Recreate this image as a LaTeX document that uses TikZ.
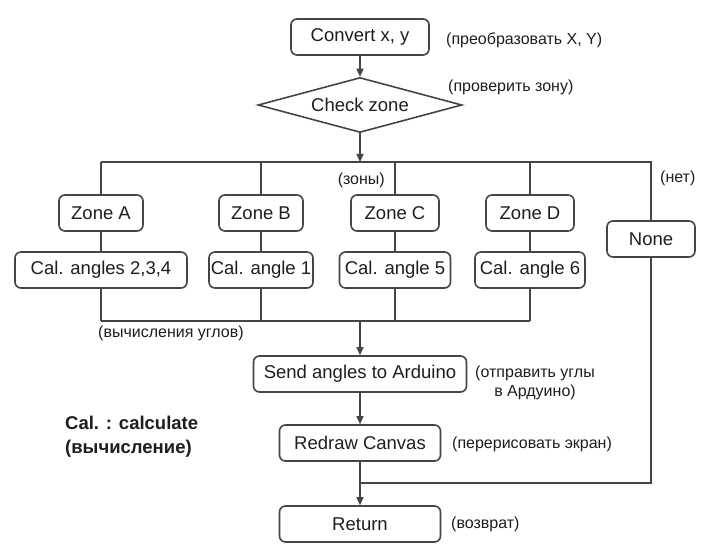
\documentclass[tikz,border=0pt]{standalone}
\usepackage{fontspec}
\setmainfont{Liberation Sans}
\usetikzlibrary{shapes.geometric,arrows.meta}
\definecolor{linegray}{HTML}{454545}
\definecolor{textgray}{HTML}{1E1E1E}
\begin{document}
\begin{tikzpicture}[x=1pt,y=1pt,
  box/.style={draw=linegray,line width=1.6pt,rounded corners=6pt,minimum height=36pt,inner sep=0pt,text=textgray,font=\fontsize{18.5}{22}\selectfont},
  cond/.style={diamond,draw=linegray,line width=1.6pt,aspect=3.7,minimum width=204pt,minimum height=55pt,inner sep=0pt,text=textgray,font=\fontsize{18.5}{22}\selectfont},
  note/.style={text=textgray,inner sep=0pt,font=\fontsize{16}{19}\selectfont},
  line/.style={draw=linegray,line width=1.4pt},
  arr/.style={line,-{Triangle[length=8pt,width=7pt]}}]
\useasboundingbox[fill=white] (0,0) rectangle (715,557);
% main column
\node[box,minimum width=138pt] (conv) at (360,520) {Convert x, y};
\node[cond] (chk) at (360,452) {Check zone};
\coordinate (bus) at (360,395);
\node[box,minimum width=84pt] (zoneA) at (101,344) {Zone A};
\node[box,minimum width=84pt] (zoneB) at (261,344) {Zone B};
\node[box,minimum width=88pt] (zoneC) at (395,344) {Zone C};
\node[box,minimum width=88pt] (zoneD) at (530,344) {Zone D};
\node[box,minimum width=88pt] (none) at (651,318) {None};
\node[box,minimum width=172pt] (calA) at (101,287) {Cal. angles 2,3,4};
\node[box,minimum width=104pt] (calB) at (261,287) {Cal. angle 1};
\node[box,minimum width=111pt] (calC) at (395,287) {Cal. angle 5};
\node[box,minimum width=110pt] (calD) at (530,287) {Cal. angle 6};
\coordinate (low) at (360,236);
\node[box,minimum width=213pt] (send) at (360,183) {Send angles to Arduino};
\node[box,minimum width=161pt] (redraw) at (360,114) {Redraw Canvas};
\coordinate (join) at (360,74);
\node[box,minimum width=161pt] (ret) at (360,33) {Return};
% connectors
\draw[arr] (conv) -- (chk);
\draw[arr] (chk) -- (bus);
\draw[line] (zoneA.north |- bus) -- (none.north |- bus) -- (none.north);
\foreach \z in {A,B,C,D}{
    \draw[line] (zone\z.north |- bus) -- (zone\z.north);
    \draw[line] (zone\z) -- (cal\z);
    \draw[line] (cal\z.south) -- (cal\z.south |- low);
};
\draw[line] (calA.south |- low) -- (calD.south |- low);
\draw[arr] (low) -- (send);
\draw[arr] (send) -- (redraw);
\draw[arr] (redraw) -- (ret);
\draw[line] (none.south) -- (none.south |- join) -- (join);
% notes
\node[note,anchor=west] (nconv) at (446,517) {(преобразовать X, Y)};
\node[note,anchor=west] (nchk) at (448,470) {(проверить зону)};
\node[note,anchor=east] (nzone) at (385,377) {(зоны)};
\node[note,anchor=west] (nnone) at (660,379) {(нет)};
\node[note,anchor=west] (ncal) at (98,224) {(вычисления углов)};
\node[note,align=center] (nsend) at (535,174) {(отправить углы\\ в Ардуино)};
\node[note,anchor=west] (nredraw) at (452,113) {(перерисовать экран)};
\node[note,anchor=west] (nret) at (451,33) {(возврат)};
\node[note,anchor=west,align=left,font=\bfseries\fontsize{18.5}{24}\selectfont] (legend) at (65,120) {Cal. : calculate\\(вычисление)};
\end{tikzpicture}
\end{document}
